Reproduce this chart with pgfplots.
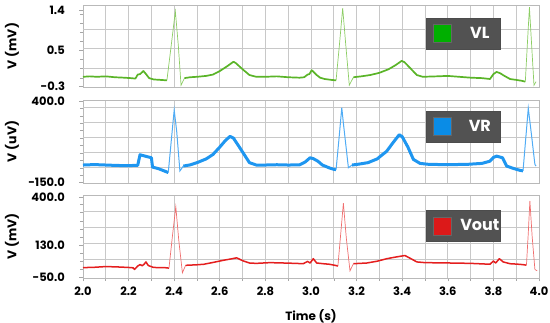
\documentclass[border=0pt]{standalone}
\usepackage{pgfplots}
\pgfplotsset{compat=1.18}
\usepackage{fontspec}
\setmainfont{Poppins}
\definecolor{vlc}{RGB}{90,180,40}
\definecolor{vls}{RGB}{140,205,100}
\definecolor{vlsq}{RGB}{0,175,0}
\definecolor{vrc}{RGB}{30,150,240}
\definecolor{vrs}{RGB}{80,172,245}
\definecolor{vrsq}{RGB}{10,140,230}
\definecolor{voc}{RGB}{228,30,30}
\definecolor{vos}{RGB}{240,110,110}
\definecolor{vosq}{RGB}{220,25,25}
\definecolor{gridc}{RGB}{200,200,200}
\definecolor{lg}{RGB}{82,82,82}
\pgfplotsset{
  panel/.style={
    scale only axis, width=456pt,
    xmin=2, xmax=4,
    xtick={2,2.2,2.4,2.6,2.8,3,3.2,3.4,3.6,3.8,4},
    minor xtick={2.1,2.3,2.5,2.7,2.9,3.1,3.3,3.5,3.7,3.9},
    xmajorgrids=true, xminorgrids=true,
    ymajorgrids=false, yminorgrids=false,
    grid style={gridc, line width=0.8pt},
    minor grid style={gridc, line width=0.8pt},
    axis line style={gray!55, line width=0.7pt},
    tick style={gray!70, line width=0.6pt},
    major tick length=3.5pt, minor tick length=3pt,
    tick align=outside, tick pos=left,
    extra y tick labels={},
    extra y tick style={ymajorgrids=true, major tick length=0pt},
    yticklabel style={font=\bfseries\fontsize{11.5}{11.5}\selectfont, xshift=-11pt},
    ylabel style={at={(axis description cs:-0.156,0.5)}, anchor=center, font=\bfseries\fontsize{12.5}{12.5}\selectfont},
    legend style={at={(0.833,0.65)}, anchor=center, fill=lg, draw=black!70,
      text=white, font=\bfseries\fontsize{16}{16}\selectfont,
      inner xsep=0pt, inner ysep=0pt, nodes={inner sep=0pt}},
  },
  top/.style={xticklabels={}, xtick style={draw=none}},
}
\newcommand{\sq}[1]{\path[draw=none,fill=none] (-7pt,-15.5pt) rectangle (27pt,15.5pt);
     \path[fill=#1, draw=black!60, line width=0.6pt] (0pt,-9pt) rectangle (18pt,9pt);}
\begin{document}
\begin{tikzpicture}
\path[use as bounding box] (0,0) rectangle (550pt,323pt);
% ---------------- VL
\begin{axis}[panel, top, at={(83pt,236pt)}, anchor=south west, height=82pt,
  ymin=-0.32, ymax=1.53,
  ytick={-0.3,0.5,1.4}, yticklabels={-0.3,0.5,1.4},
  minor ytick={-0.1144,0.0912,0.2968,0.5024,0.708,0.9136,1.1192,1.3248},
  extra y ticks={0.10,0.555,0.986},
  ylabel={V (mV)},
  legend image code/.code={\sq{vlsq}}]
\addplot[vlc, line width=1.7pt, line join=round] coordinates {(2.000,-0.09)(2.03,-0.08)(2.06,-0.09)(2.10,-0.08)(2.14,-0.10)(2.18,-0.11)(2.21,-0.12)(2.23,-0.13)(2.24,-0.04)(2.25,-0.03)(2.265,0.04)(2.275,-0.02)(2.29,-0.12)(2.31,-0.15)(2.34,-0.16)(2.368,-0.17)};
\addlegendentry{\makebox[40pt][c]{VL}\hspace{8pt}}
\addplot[vls, line width=0.7pt, forget plot] coordinates {(2.368,-0.17)(2.387,0.62)(2.405,1.39)(2.418,0.62)(2.43,-0.28)(2.445,-0.12)};
\addplot[vlc, line width=1.7pt, line join=round, forget plot] coordinates {(2.445,-0.12)(2.47,-0.10)(2.50,-0.09)(2.54,-0.07)(2.57,-0.04)(2.60,0.04)(2.63,0.14)(2.66,0.25)(2.67,0.22)(2.70,0.08)(2.73,-0.05)(2.76,-0.09)(2.80,-0.09)(2.85,-0.08)(2.90,-0.10)(2.95,-0.11)(2.97,-0.10)(2.985,-0.04)(2.993,-0.03)(3.003,0.06)(3.015,0.0)(3.025,-0.05)(3.04,-0.11)(3.06,-0.14)(3.09,-0.16)(3.11,-0.17)};
\addplot[vls, line width=0.7pt, forget plot] coordinates {(3.11,-0.17)(3.125,0.65)(3.139,1.46)(3.153,0.6)(3.168,-0.28)(3.186,-0.10)};
\addplot[vlc, line width=1.7pt, line join=round, forget plot] coordinates {(3.186,-0.10)(3.22,-0.08)(3.26,-0.05)(3.30,0.00)(3.34,0.08)(3.37,0.17)(3.398,0.27)(3.41,0.24)(3.44,0.08)(3.464,-0.05)(3.49,-0.09)(3.55,-0.08)(3.60,-0.07)(3.65,-0.09)(3.70,-0.11)(3.75,-0.12)(3.785,-0.14)(3.80,-0.03)(3.814,0.02)(3.83,-0.01)(3.845,-0.06)(3.873,-0.14)(3.90,-0.16)(3.924,-0.18)(3.94,-0.20)};
\addplot[vls, line width=0.7pt, forget plot] coordinates {(3.94,-0.20)(3.949,0.65)(3.958,1.48)(3.968,0.6)(3.978,-0.28)(3.987,-0.20)};
\end{axis}
% ---------------- VR
\begin{axis}[panel, top, at={(83pt,140pt)}, anchor=south west, height=83pt,
  ymin=-152, ymax=407,
  ytick={-150,400}, yticklabels={-150.0,400.0},
  minor ytick={-100,-50,0,50,100,150,200,250,300,350},
  extra y ticks={-45,55,155,255,355},
  ylabel={V (uV)},
  legend style={at={(0.833,0.68)}},
  legend image code/.code={\sq{vrsq}}]
\addplot[vrc, line width=3pt, line join=round] coordinates {(2.00,-31)(2.05,-28)(2.10,-31)(2.15,-34)(2.20,-35)(2.24,-33)(2.25,38)(2.27,30)(2.29,22)(2.30,18)(2.305,-45)(2.33,-55)(2.355,-70)(2.374,-82)};
\addlegendentry{\makebox[40pt][c]{VR}\hspace{8pt}}
\addplot[vrs, line width=1pt, forget plot] coordinates {(2.374,-82)(2.387,130)(2.40,340)(2.411,195)(2.425,-71)(2.44,-38)};
\addplot[vrc, line width=3pt, line join=round, forget plot] coordinates {(2.44,-38)(2.47,-30)(2.50,-15)(2.54,10)(2.57,40)(2.60,90)(2.625,135)(2.645,162)(2.66,150)(2.69,80)(2.73,-15)(2.76,-31)(2.80,-31)(2.85,-29)(2.90,-31)(2.95,-30)(2.975,-10)(2.996,18)(3.01,12)(3.03,-5)(3.05,-31)(3.08,-50)(3.10,-60)(3.11,-62)};
\addplot[vrs, line width=1pt, forget plot] coordinates {(3.11,-62)(3.123,150)(3.135,355)(3.142,251)(3.164,-49)(3.18,-31)};
\addplot[vrc, line width=3pt, line join=round, forget plot] coordinates {(3.18,-31)(3.21,-25)(3.25,-15)(3.29,10)(3.332,62)(3.36,120)(3.387,173)(3.40,160)(3.425,90)(3.449,7)(3.478,-20)(3.52,-27)(3.60,-28)(3.68,-27)(3.75,-20)(3.785,-5)(3.80,20)(3.814,29)(3.84,18)(3.858,-38)(3.89,-55)(3.917,-67)(3.93,-70)};
\addplot[vrs, line width=1pt, forget plot] coordinates {(3.93,-70)(3.942,150)(3.953,351)(3.967,173)(3.982,-27)(3.987,-38)};
\end{axis}
% ---------------- Vout
\begin{axis}[panel, at={(83pt,45pt)}, anchor=south west, height=83pt,
  ymin=-52, ymax=413,
  ytick={-50,130,400}, yticklabels={-50.0,130.0,400.0},
  minor ytick={-4,42,88,176,222,268,314,360},
  extra y ticks={52,142,233,321},
  ylabel={V (mV)},
  xticklabels={2.0,2.2,2.4,2.6,2.8,3.0,3.2,3.4,3.6,3.8,4.0},
  xticklabel style={font=\bfseries\fontsize{11.5}{11.5}\selectfont, yshift=-2pt},
  xlabel={Time (s)},
  xlabel style={at={(axis description cs:0.5,-0.458)}, anchor=center, font=\bfseries\fontsize{12}{12}\selectfont},
  legend style={at={(0.833,0.627)}},
  legend image code/.code={\sq{vosq}}]
\addplot[voc, line width=1.5pt, line join=round] coordinates {(2.00,6)(2.05,8)(2.10,12)(2.15,10)(2.20,7)(2.22,5)(2.226,-4)(2.24,15)(2.25,23)(2.26,17)(2.268,25)(2.276,38)(2.285,20)(2.29,16)(2.31,7)(2.35,6)(2.37,5)(2.377,2)};
\addlegendentry{\makebox[40pt][c]{Vout}\hspace{8pt}}
\addplot[vos, line width=0.7pt, forget plot] coordinates {(2.377,2)(2.392,180)(2.407,348)(2.42,160)(2.436,-23)(2.45,19)};
\addplot[voc, line width=1.5pt, line join=round, forget plot] coordinates {(2.45,19)(2.50,22)(2.53,25)(2.57,35)(2.615,47)(2.65,55)(2.674,61)(2.70,45)(2.73,32)(2.76,30)(2.82,34)(2.88,32)(2.93,30)(2.966,28)(2.985,41)(2.996,32)(3.01,56)(3.025,32)(3.054,28)(3.08,25)(3.105,19)(3.118,15)};
\addplot[vos, line width=0.7pt, forget plot] coordinates {(3.118,15)(3.13,190)(3.142,367)(3.155,170)(3.171,-12)(3.186,28)};
\addplot[voc, line width=1.5pt, line join=round, forget plot] coordinates {(3.186,28)(3.245,32)(3.29,42)(3.332,56)(3.37,65)(3.412,74)(3.44,55)(3.464,38)(3.50,34)(3.61,32)(3.70,30)(3.785,25)(3.80,43)(3.81,32)(3.826,56)(3.843,38)(3.873,28)(3.90,26)(3.928,23)(3.945,20)};
\addplot[vos, line width=0.7pt, forget plot] coordinates {(3.945,20)(3.953,200)(3.96,380)(3.97,180)(3.982,-4)(3.992,-12)};
\end{axis}
\end{tikzpicture}
\end{document}
